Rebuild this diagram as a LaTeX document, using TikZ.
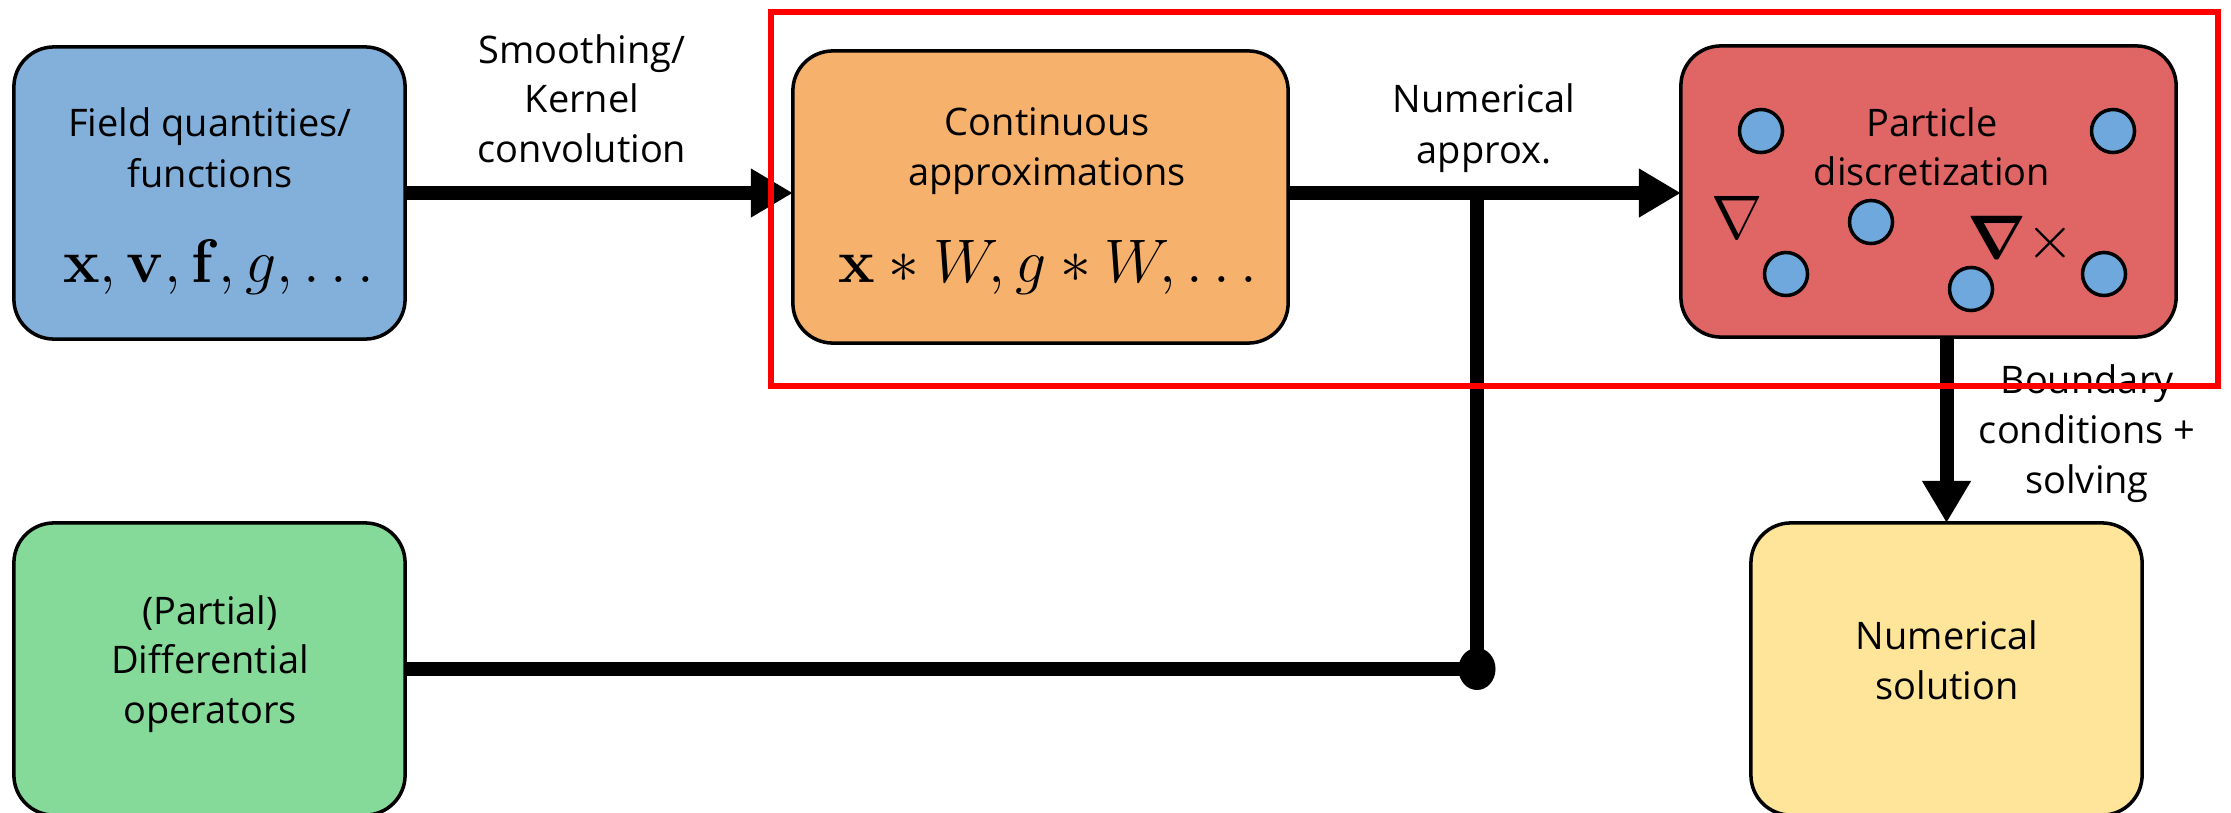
\RequirePackage{fix-cm}
\documentclass[tikz,border=0pt]{standalone}
\usepackage{amsmath}
\usepackage[no-math]{fontspec}
\newfontfamily\osans{Open Sans}
\usetikzlibrary{arrows.meta,shapes.geometric}
\definecolor{cblue}{RGB}{131,176,218}
\definecolor{corange}{RGB}{246,177,108}
\definecolor{cred}{RGB}{224,102,102}
\definecolor{cgreen}{RGB}{134,218,153}
\definecolor{cyellow}{RGB}{255,229,153}
\definecolor{cdot}{RGB}{111,168,220}
\definecolor{hlred}{RGB}{255,0,0}
\begin{document}
\begin{tikzpicture}[x=0.01cm,y=-0.01cm,
  box/.style={draw=black, line width=1pt, rounded corners=0.4cm, inner sep=0pt, outer sep=0pt},
  lbl/.style={font=\osans\fontsize{10.8}{13}\selectfont, inner sep=0pt, anchor=base},
  mth/.style={font=\fontsize{17.5}{21}\selectfont, inner sep=0pt, anchor=base},
  conn/.style={line width=0.14cm},
  arrowed/.style={-{Triangle[length=0.42cm,width=0.46cm]}},
  particle/.style={circle, draw=black, line width=1pt, fill=cdot, minimum size=0.43cm, inner sep=0pt}]
\path[use as bounding box] (0,0) rectangle (2231,812);

% boxes
\node[box, fill=cblue, minimum width=3.91cm, minimum height=2.92cm] (field) at (209.5,193) {};
\node[box, fill=corange, minimum width=4.95cm, minimum height=2.92cm] (cont) at (1040.5,197) {};
\node[box, fill=cred, minimum width=4.95cm, minimum height=2.91cm] (part) at (1928.5,191.5) {};
\node[box, fill=cgreen, minimum width=3.91cm, minimum height=2.92cm] (diff) at (209.5,669) {};
\node[box, fill=cyellow, minimum width=3.91cm, minimum height=2.92cm] (sol) at (1946.5,669) {};

% box texts
\node[lbl] (f1) at (210,136) {Field quantities/};
\node[lbl] (f2) at (210,187) {functions};
\node[mth] (fm) at (224,282) {$\mathbf{x},\mathbf{v},\mathbf{f},g,\dots$};
\node[lbl] (c1) at (1047,135) {Continuous};
\node[lbl] (c2) at (1047,185) {approximations};
\node[mth] (cm) at (1053,282) {$\mathbf{x}*W,g*W,\dots$};
\node[lbl] (p1) at (1932,136) {Particle};
\node[lbl] (p2) at (1932,185) {discretization};
\node[lbl] (d1) at (210,624) {(Partial)};
\node[lbl] (d2) at (210,673) {Differential};
\node[lbl] (d3) at (210,723) {operators};
\node[lbl] (s1) at (1947,649) {Numerical};
\node[lbl] (s2) at (1947,699) {solution};

% particles and operators
\node[particle] (q1) at (1761,131) {};
\node[particle] (q2) at (2113,131) {};
\node[particle] (q3) at (1871,222) {};
\node[particle] (q4) at (1786,274) {};
\node[particle] (q5) at (1971,289) {};
\node[particle] (q6) at (2104,274) {};
\node[mth] (nab1) at (1737,238) {$\nabla$};
\node[mth] (nab2) at (2021,258) {$\boldsymbol{\nabla}\times$};

% connector labels
\node[lbl] (l1) at (582,63) {Smoothing/};
\node[lbl] (l2) at (582,112) {Kernel};
\node[lbl] (l3) at (582,162) {convolution};
\node[lbl] (n1) at (1484,112) {Numerical};
\node[lbl] (n2) at (1484,163) {approx.};
\node[lbl] (b1) at (2087,393) {Boundary};
\node[lbl] (b2) at (2087,443) {conditions +};
\node[lbl] (b3) at (2087,493) {solving};

% connectors
\coordinate (j) at (1477,193);
\node[ellipse, fill=black, minimum width=0.37cm, minimum height=0.42cm, inner sep=0pt] (dot) at (1477,669) {};
\draw[conn, arrowed] (field.east) -- (field.east -| cont.west);
\draw[conn, arrowed] (cont.east |- j) -- (part.west |- j);
\draw[conn] (j) -- (dot.center);
\draw[conn] (diff.east) -- (dot.center);
\draw[conn, arrowed] (sol.north |- part.south) -- (sol.north);

% highlight frame
\draw[hlred, line width=0.065cm] (771,12) rectangle (2218,386);
\end{tikzpicture}
\end{document}
